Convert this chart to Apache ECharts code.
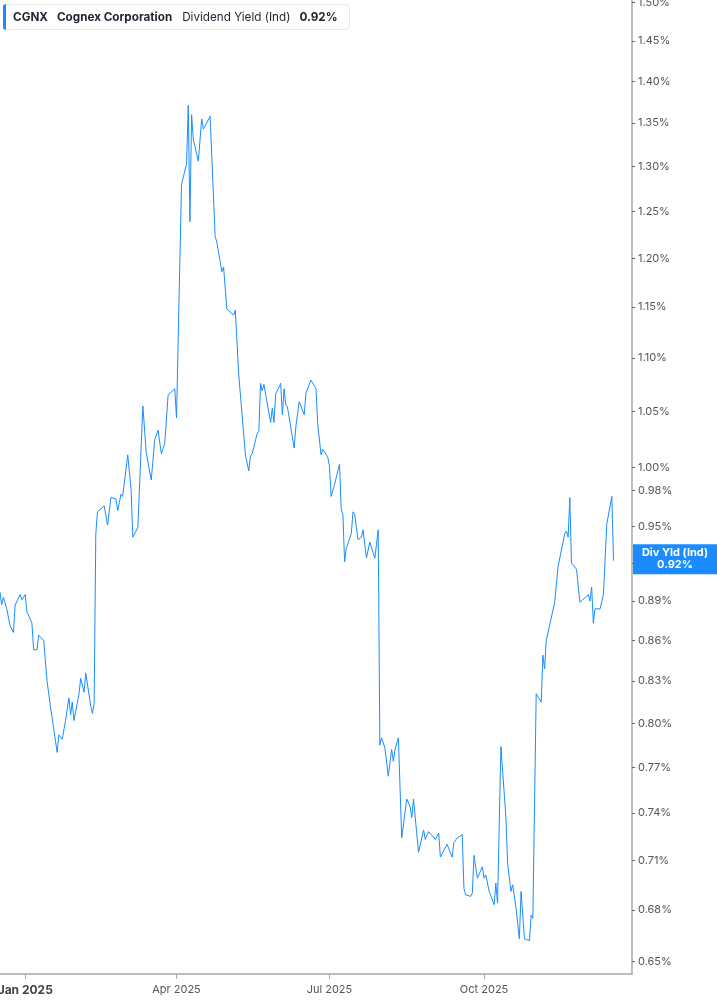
<!DOCTYPE html>
<html><head><meta charset="utf-8">
<script src="https://cdn.jsdelivr.net/npm/echarts@6/dist/echarts.min.js"></script>
<style>html,body{margin:0;padding:0;background:#fff}#c{width:717px;height:1005px}</style>
</head><body><div id="c"></div>
<script>
const ticker = 'CGNX';
const company = 'Cognex Corporation';
const metric = 'Dividend Yield (Ind)';
const shortMetric = 'Div Yld (Ind)';

const dates = [
'2024-12-17','2024-12-18','2024-12-19','2024-12-21','2024-12-23','2024-12-25','2024-12-26','2024-12-29','2024-12-30',
'2025-01-01','2025-01-02','2025-01-05','2025-01-06','2025-01-08','2025-01-09','2025-01-12','2025-01-14','2025-01-15','2025-01-16','2025-01-18','2025-01-20','2025-01-21','2025-01-23','2025-01-25','2025-01-27','2025-01-28','2025-01-29','2025-01-30',
'2025-02-02','2025-02-03','2025-02-05','2025-02-06','2025-02-09','2025-02-10','2025-02-11','2025-02-12','2025-02-13','2025-02-17','2025-02-19','2025-02-21','2025-02-24','2025-02-25','2025-02-27','2025-02-28',
'2025-03-03','2025-03-05','2025-03-06','2025-03-09','2025-03-12','2025-03-14','2025-03-17','2025-03-19','2025-03-21','2025-03-23','2025-03-25','2025-03-26','2025-03-27','2025-03-31',
'2025-04-01','2025-04-04','2025-04-07','2025-04-08','2025-04-09','2025-04-10','2025-04-11','2025-04-14','2025-04-16','2025-04-17','2025-04-21','2025-04-24','2025-04-25','2025-04-28','2025-04-29',
'2025-05-01','2025-05-05','2025-05-06','2025-05-08','2025-05-09','2025-05-12','2025-05-13','2025-05-14','2025-05-15','2025-05-16','2025-05-19','2025-05-20','2025-05-21','2025-05-22','2025-05-23','2025-05-27','2025-05-28','2025-05-29','2025-05-30',
'2025-06-02','2025-06-03','2025-06-04','2025-06-05','2025-06-06','2025-06-10','2025-06-11','2025-06-13','2025-06-16','2025-06-17','2025-06-18','2025-06-20','2025-06-23','2025-06-24','2025-06-25','2025-06-26','2025-06-27','2025-06-30',
'2025-07-01','2025-07-02','2025-07-04','2025-07-07','2025-07-08','2025-07-09','2025-07-10','2025-07-11','2025-07-14','2025-07-15','2025-07-16','2025-07-18','2025-07-20','2025-07-21','2025-07-23','2025-07-25','2025-07-26','2025-07-28','2025-07-30','2025-07-31',
'2025-08-01','2025-08-03','2025-08-05','2025-08-07','2025-08-08','2025-08-09','2025-08-11','2025-08-13','2025-08-16','2025-08-18','2025-08-19','2025-08-20','2025-08-21','2025-08-23','2025-08-26','2025-08-27','2025-08-29',
'2025-09-02','2025-09-04','2025-09-05','2025-09-09','2025-09-10','2025-09-12','2025-09-13','2025-09-15','2025-09-16','2025-09-18','2025-09-19','2025-09-20','2025-09-23','2025-09-24','2025-09-25','2025-09-27','2025-09-30',
'2025-10-01','2025-10-02','2025-10-04','2025-10-07','2025-10-08','2025-10-09','2025-10-10','2025-10-11','2025-10-14','2025-10-15','2025-10-17','2025-10-18','2025-10-20','2025-10-22','2025-10-23','2025-10-25','2025-10-28','2025-10-29','2025-10-30',
'2025-11-01','2025-11-04','2025-11-05','2025-11-06','2025-11-07','2025-11-12','2025-11-14','2025-11-18','2025-11-19','2025-11-20','2025-11-21','2025-11-22','2025-11-25','2025-11-27',
'2025-12-02','2025-12-03','2025-12-04','2025-12-05','2025-12-06','2025-12-09','2025-12-11','2025-12-13','2025-12-16','2025-12-17'
];

const yields = [
0.897,0.887,0.893,0.884,0.871,0.866,0.887,0.895,0.891,
0.895,0.882,0.873,0.853,0.853,0.864,0.860,0.830,0.829,0.812,0.796,0.780,0.792,0.789,0.802,0.818,0.806,0.815,0.802,
0.821,0.832,0.822,0.836,0.812,0.807,0.814,0.944,0.962,0.967,0.951,0.974,0.973,0.963,0.977,0.975,
1.011,0.981,0.941,0.949,1.055,1.013,0.989,1.024,1.033,1.012,1.021,1.021,1.065,1.071,
1.044,1.280,1.303,1.371,1.239,1.360,1.331,1.306,1.355,1.343,1.358,1.223,1.217,1.186,1.191,
1.148,1.142,1.147,1.085,1.084,1.011,1.010,0.997,1.010,1.012,1.030,1.032,1.076,1.069,1.075,1.040,1.053,1.040,1.066,
1.076,1.047,1.071,1.056,1.054,1.017,1.036,1.059,1.047,1.067,1.066,1.079,1.071,1.039,1.038,1.011,1.016,1.009,
1.001,0.975,0.985,1.003,0.964,0.960,0.921,0.932,0.944,0.962,0.960,0.939,0.941,0.947,0.924,0.937,0.937,0.924,0.947,0.785,
0.790,0.783,0.764,0.782,0.774,0.782,0.790,0.724,0.749,0.744,0.737,0.749,0.748,0.715,0.729,0.723,0.728,
0.723,0.727,0.712,0.720,0.720,0.712,0.721,0.724,0.724,0.726,0.693,0.689,0.688,0.690,0.713,0.699,0.706,
0.699,0.701,0.691,0.683,0.696,0.684,0.685,0.784,0.737,0.708,0.691,0.695,0.681,0.663,0.691,0.663,0.662,0.677,0.675,
0.821,0.815,0.849,0.839,0.860,0.889,0.917,0.944,0.946,0.941,0.974,0.920,0.915,0.889,
0.895,0.890,0.901,0.873,0.884,0.884,0.895,0.952,0.975,0.922
];

const yTickLabels = [0.65,0.68,0.71,0.74,0.77,0.80,0.83,0.86,0.89,0.92,0.95,0.98,1.00,1.05,1.10,1.15,1.20,1.25,1.30,1.35,1.40,1.45,1.50];
const xTickDates = ['2025-01-01','2025-04-01','2025-07-01','2025-10-01'];
const xRange = ['2024-12-17','2025-12-28'];
const yRange = [0.643, 1.503];

const MONTHS = ['Jan','Feb','Mar','Apr','May','Jun','Jul','Aug','Sep','Oct','Nov','Dec'];
const ts = d => Date.parse(d);
const lastVal = yields[yields.length - 1];
const blue = '#1a8cff';

const seriesData = dates.map((d, i) => [ts(d), Math.log(yields[i])]);

const chart = echarts.init(document.getElementById('c'), null, {renderer: 'canvas'});
chart.setOption({
  animation: false,
  backgroundColor: '#ffffff',
  textStyle: {fontFamily: 'Inter, Roboto, sans-serif'},
  title: {
    left: 3, top: 4,
    padding: [0, 12, 0, 0],
    backgroundColor: '#ffffff',
    borderColor: '#e6e6e6', borderWidth: 1, borderRadius: 4,
    text: '{bar|}{t|' + ticker + '}{b|' + company + '}{n|' + metric + '}{v|' + lastVal.toFixed(2) + '%}',
    textStyle: {
      rich: {
        bar: {width: 3, height: 26, backgroundColor: blue, borderRadius: [3, 0, 0, 3]},
        t: {fontFamily: 'Inter', fontWeight: 'bold', fontSize: 11.7, color: '#1f2330', padding: [0, 0, 0, 7], lineHeight: 26},
        b: {fontFamily: 'Inter', fontWeight: 'bold', fontSize: 11.7, color: '#1f2330', padding: [0, 0, 0, 9], lineHeight: 26},
        n: {fontFamily: 'Inter', fontWeight: 'normal', fontSize: 11.7, color: '#1f2330', padding: [0, 0, 0, 10], lineHeight: 26},
        v: {fontFamily: 'Inter', fontWeight: 'bold', fontSize: 11.7, color: '#1f2330', padding: [0, 0, 0, 9], lineHeight: 26}
      }
    }
  },
  grid: {left: 0, right: 85, top: 0, bottom: 31, containLabel: false, outerBoundsMode: 'none'},
  xAxis: {
    type: 'value',
    min: ts(xRange[0]), max: ts(xRange[1]),
    axisLine: {show: true, onZero: false, lineStyle: {color: '#a8a8a8', width: 1.5}},
    axisTick: {show: true, length: 5, lineStyle: {color: '#a8a8a8'}, customValues: xTickDates.map(ts)},
    splitLine: {show: false},
    axisLabel: {
      customValues: xTickDates.map(ts),
      margin: 10,
      fontSize: 11,
      color: '#555',
      formatter: v => {
        const d = new Date(v);
        const m = d.getUTCMonth();
        const s = MONTHS[m] + ' ' + d.getUTCFullYear();
        return m === 0 ? '{y|' + s + '}' : s;
      },
      rich: {y: {fontWeight: 'bold', fontSize: 12, color: '#444'}}
    }
  },
  yAxis: {
    type: 'value',
    position: 'right',
    min: Math.log(yRange[0]), max: Math.log(yRange[1]),
    axisLine: {show: true, onZero: false, lineStyle: {color: '#a8a8a8', width: 1.5}},
    axisTick: {show: true, length: 3, lineStyle: {color: '#666'}, customValues: yTickLabels.map(Math.log)},
    splitLine: {show: false},
    axisLabel: {
      customValues: yTickLabels.map(Math.log),
      margin: 6,
      fontSize: 11,
      color: '#555',
      formatter: v => Math.exp(v).toFixed(2) + '%'
    }
  },
  series: [{
    type: 'line',
    data: seriesData,
    showSymbol: false,
    symbol: 'none',
    lineStyle: {color: blue, width: 1},
    markLine: {
      silent: true,
      symbol: 'none',
      lineStyle: {color: 'rgba(0,0,0,0)', width: 0},
      data: [{yAxis: Math.log(lastVal)}],
      label: {
        show: true,
        position: 'end',
        distance: 1,
        backgroundColor: blue,
        padding: [3, 3, 3, 3],
        formatter: '{a|' + shortMetric + '}\n{a|' + lastVal.toFixed(2) + '%}',
        rich: {a: {width: 78, align: 'center', color: '#fff', fontWeight: 'bold', fontSize: 11, lineHeight: 12, fontFamily: 'Inter'}}
      }
    }
  }]
});
</script>
</body></html>
